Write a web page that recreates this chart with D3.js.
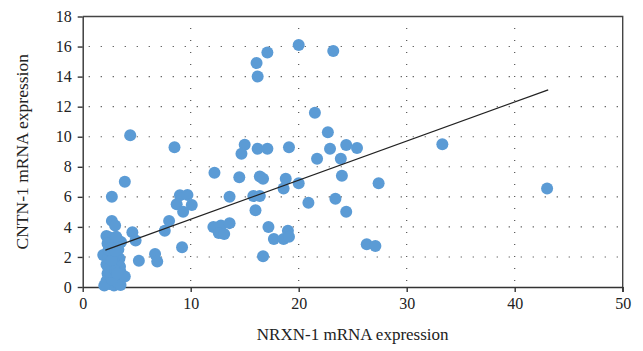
<!DOCTYPE html>
<html>
<head>
<meta charset="utf-8">
<script src="https://cdn.jsdelivr.net/npm/d3@7"></script>
<style>
  body { margin: 0; background: #fff; }
  svg text { font-family: "Liberation Serif", "DejaVu Serif", serif; fill: #222; }
</style>
</head>
<body>
<div id="graf"></div>
<script>
// datos (NRXN-1 vs CNTN-1)
nrxn = [4.4, 8.5, 16.1, 16.2, 17.1, 20.0, 23.2, 21.5, 22.7,
        16.2, 17.1, 19.1, 22.9, 24.4, 25.4, 33.3, 15.0, 14.7,
        21.7, 23.9, 16.4, 16.7, 18.8, 18.6, 20.0, 24.0, 27.4, 12.2, 14.5,
        13.6, 15.8, 16.4, 16.0, 20.9, 23.4, 24.4,
        17.2, 17.7, 18.6, 19.0, 19.1, 16.7, 26.3, 27.1, 43.0,
        3.9, 2.7, 9.0, 9.7, 8.7, 9.3, 10.1, 8.0, 7.6, 9.2,
        12.1, 12.8, 13.6, 12.6, 13.1, 4.6, 4.9, 5.2, 6.7, 6.9,
        2.7, 3.0, 2.2, 2.5, 2.8, 3.2, 3.0, 2.3, 2.6, 3.3, 1.9, 2.4, 2.9, 3.4,
        2.2, 2.6, 3.0, 3.4, 3.5, 2.3, 2.8, 3.1, 2.2, 2.5, 2.9, 3.3, 3.6, 2.0,
        3.5, 2.7, 3.55, 3.1, 3.9, 3.45, 2.4,
        2.5, 3.0, 2.7, 3.2, 2.4, 3.0]
cntn = [10.1, 9.3, 14.9, 14.0, 15.6, 16.1, 15.7, 11.6, 10.3,
        9.2, 9.2, 9.3, 9.2, 9.45, 9.25, 9.5, 9.47, 8.87,
        8.53, 8.53, 7.35, 7.2, 7.2, 6.55, 6.9, 7.4, 6.9, 7.6, 7.3,
        6.0, 6.05, 6.05, 5.1, 5.6, 5.87, 5.0,
        4.0, 3.2, 3.2, 3.75, 3.35, 2.05, 2.85, 2.73, 6.55,
        7.0, 6.0, 6.1, 6.13, 5.5, 5.0, 5.45, 4.4, 3.75, 2.65,
        4.0, 4.1, 4.25, 3.6, 3.53, 3.65, 3.1, 1.75, 2.2, 1.7,
        4.4, 4.1, 3.4, 3.3, 3.1, 3.2, 2.8, 2.9, 2.6, 2.5, 2.13, 2.0, 2.2, 1.9,
        1.5, 1.3, 1.6, 1.4, 1.0, 0.9, 0.8, 0.5, 0.4, 0.2, 0.1, 0.2, 0.7, 0.1,
        0.13, 0.5, 3.0, 3.35, 0.7, 1.35, 1.2,
        1.0, 1.1, 1.8, 0.9, 2.5, 2.4]

// linea de tendencia (extremos)
tendX = [2.1, 43.1]
tendY = [2.45, 13.12]

xTicks = [0, 10, 20, 30, 40, 50]
yTicks = [0, 2, 4, 6, 8, 10, 12, 14, 16, 18]

ancho_total = 643
alto_total = 351
margins = {top: 16.5, left: 82.7, right: 20.3, bottom: 64}
ancho = ancho_total - margins.left - margins.right
alto = alto_total - margins.top - margins.bottom

svg = d3.select('#graf').append('svg')
        .attr('width', ancho_total)
        .attr('height', alto_total)

g = svg.append('g')
       .attr('transform', `translate(${margins.left}, ${margins.top})`)

x = d3.scaleLinear().domain([0, 50]).range([0, ancho])
y = d3.scaleLinear().domain([0, 18]).range([alto, 0])

// rejilla punteada
g.selectAll('.gh')
 .data(yTicks.filter(d => d > 0 && d < 18))
 .enter().append('line')
   .attr('x1', 0).attr('x2', ancho)
   .attr('y1', d => y(d)).attr('y2', d => y(d))
   .attr('stroke', '#444').attr('stroke-width', 1.1)
   .attr('stroke-dasharray', '1.1 10.9')
   .attr('stroke-dashoffset', -6)

g.selectAll('.gv')
 .data(xTicks.filter(d => d > 0 && d < 50))
 .enter().append('line')
   .attr('y1', alto).attr('y2', 0)
   .attr('x1', d => x(d)).attr('x2', d => x(d))
   .attr('stroke', '#444').attr('stroke-width', 1.1)
   .attr('stroke-dasharray', '1.1 10.9')
   .attr('stroke-dashoffset', -6)

// marco superior y derecho
g.append('path')
 .attr('d', `M0,0H${ancho}V${alto + 5}`)
 .attr('fill', 'none').attr('stroke', '#444').attr('stroke-width', 1.4)

// ejes
xAxisGroup = g.append('g').attr('transform', `translate(0, ${alto})`)
xAxisGroup.call(d3.axisBottom(x).tickValues(xTicks).tickSize(5).tickSizeOuter(0).tickPadding(6))
yAxisGroup = g.append('g')
yAxisGroup.call(d3.axisLeft(y).tickValues(yTicks).tickSize(5).tickSizeOuter(0).tickPadding(6))

svg.selectAll('.domain, .tick line').attr('stroke', '#333').attr('stroke-width', 1.4)
svg.selectAll('.tick text')
   .style('font-family', '"Liberation Serif", serif')
   .style('font-size', '16px')
   .attr('fill', '#222')

// puntos
datos = nrxn.map((d, i) => ({nrxn: d, cntn: cntn[i]}))
g.selectAll('circle')
 .data(datos)
 .enter().append('circle')
   .attr('cx', d => x(d.nrxn))
   .attr('cy', d => y(d.cntn))
   .attr('r', 6)
   .attr('fill', '#5b9bd5')

// tendencia
g.append('line')
 .attr('x1', x(tendX[0])).attr('y1', y(tendY[0]))
 .attr('x2', x(tendX[1])).attr('y2', y(tendY[1]))
 .attr('stroke', '#222').attr('stroke-width', 1.3)

// titulos de ejes
svg.append('text')
   .attr('x', margins.left + ancho / 2)
   .attr('y', 340)
   .attr('text-anchor', 'middle')
   .style('font-size', '17px')
   .text('NRXN-1 mRNA expression')

svg.append('text')
   .attr('transform', `translate(28, ${margins.top + alto / 2}) rotate(-90)`)
   .attr('text-anchor', 'middle')
   .style('font-size', '17.5px')
   .text('CNTN-1 mRNA expression')
</script>
</body>
</html>
